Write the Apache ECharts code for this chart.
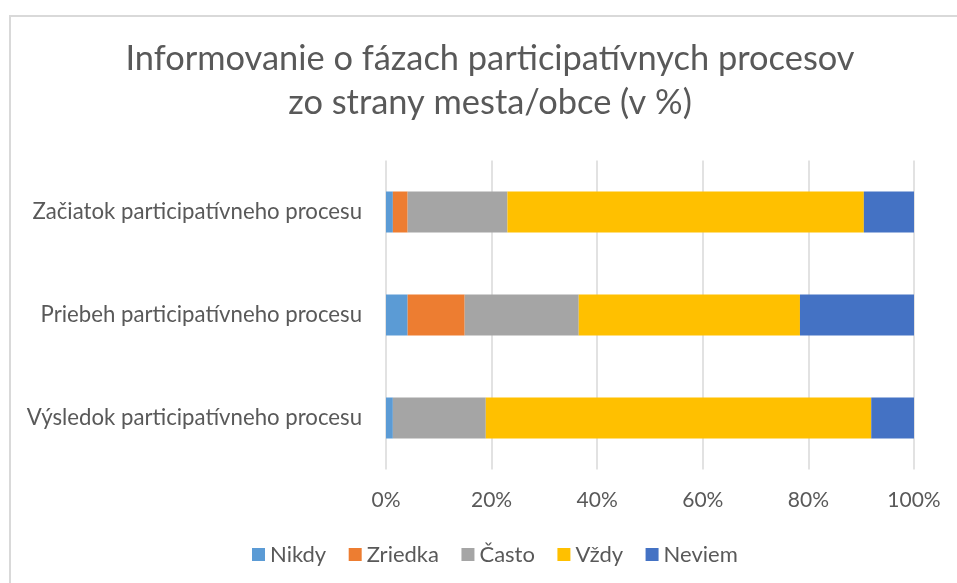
<!DOCTYPE html>
<html>
<head>
<meta charset="utf-8">
<script src="https://cdn.jsdelivr.net/npm/echarts@6/dist/echarts.min.js"></script>
<style>
html,body{margin:0;padding:0;background:#fff;}
#chart{width:957px;height:583px;}
</style>
</head>
<body>
<div id="chart"></div>
<script>
var titleText = 'Informovanie o fázach participatívnych procesov\nzo strany mesta/obce (v %)';
var categories = ['Začiatok participatívneho procesu', 'Priebeh participatívneho procesu', 'Výsledok participatívneho procesu'];
var seriesNames = ['Nikdy', 'Zriedka', 'Často', 'Vždy', 'Neviem'];
var nikdy   = [1.3, 4.1, 1.3];
var zriedka = [2.8, 10.8, 0];
var casto   = [18.9, 21.6, 17.6];
var vzdy    = [67.5, 41.9, 73.0];
var neviem  = [9.5, 21.6, 8.1];
var xTicks = [0, 20, 40, 60, 80, 100];

var colors = ['#5B9BD5', '#ED7D31', '#A5A5A5', '#FFC000', '#4472C4'];
var values = [nikdy, zriedka, casto, vzdy, neviem];
var FONT = 'Lato';
var TXT = '#595959';

var chart = echarts.init(document.getElementById('chart'), null, {renderer: 'canvas'});
var option = {
  backgroundColor: '#fff',
  animation: false,
  color: colors,
  title: {
    text: titleText,
    left: 490,
    textAlign: 'center',
    top: 37,
    padding: 0,
    textStyle: {fontFamily: FONT, fontSize: 34.4, fontWeight: 'normal', color: TXT, lineHeight: 44}
  },
  graphic: [{
    type: 'rect',
    shape: {x: 10, y: 16, width: 1000, height: 1000},
    style: {fill: 'none', stroke: '#D9D9D9', lineWidth: 2},
    silent: true
  }],
  legend: {
    left: 252,
    top: 543.5,
    padding: 0,
    itemWidth: 13,
    itemHeight: 13,
    itemGap: 22.5,
    icon: 'rect',
    textStyle: {fontFamily: FONT, fontSize: 22, color: TXT},
    data: seriesNames
  },
  grid: {left: 386, right: 43, top: 160.5, bottom: 113.5, containLabel: false},
  xAxis: {
    type: 'value',
    min: xTicks[0],
    max: xTicks[xTicks.length - 1],
    interval: 20,
    axisLine: {show: false},
    axisTick: {show: false},
    splitLine: {show: true, lineStyle: {color: '#D9D9D9', width: 1.5}},
    axisLabel: {formatter: '{value}%', fontFamily: FONT, fontSize: 21, color: TXT, margin: 20}
  },
  yAxis: {
    type: 'category',
    inverse: true,
    data: categories,
    axisLine: {show: false},
    axisTick: {show: false},
    axisLabel: {fontFamily: FONT, fontSize: 22.2, color: TXT, margin: 24}
  },
  series: seriesNames.map(function (name, i) {
    return {
      name: name,
      type: 'bar',
      stack: 'total',
      barWidth: 41,
      data: values[i],
      itemStyle: {color: colors[i]}
    };
  })
};
chart.setOption(option);
</script>
</body>
</html>
